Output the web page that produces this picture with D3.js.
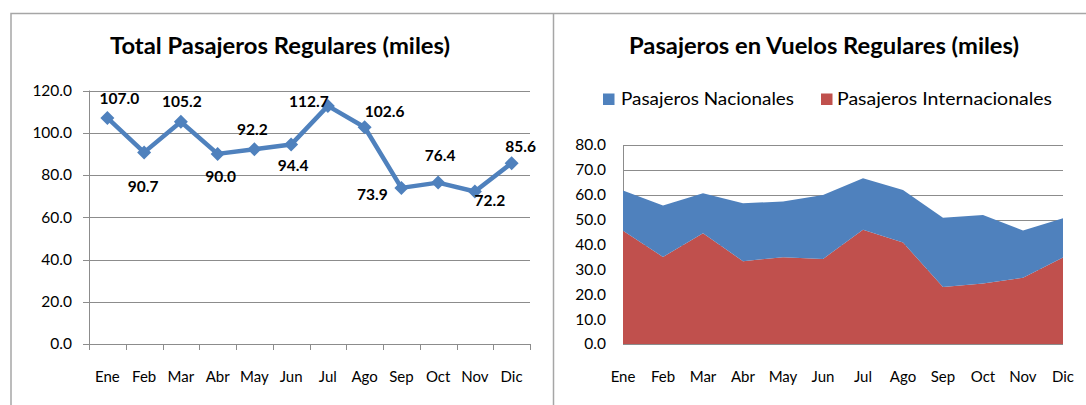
<!DOCTYPE html>
<html>
<head>
<meta charset="utf-8">
<script src="https://cdn.jsdelivr.net/npm/d3@7"></script>
<style>
  body { margin: 0; background: #fff; }
  svg { display: block; font-family: Lato, "Open Sans", sans-serif; }
</style>
</head>
<body>
<svg width="1086" height="405"></svg>
<script>
const months = ["Ene", "Feb", "Mar", "Abr", "May", "Jun", "Jul", "Ago", "Sep", "Oct", "Nov", "Dic"];

// total pasajeros regulares (miles)
const totalValues = [107.0, 90.7, 105.2, 90.0, 92.2, 94.4, 112.7, 102.6, 73.9, 76.4, 72.2, 85.6];

// stacked area: internacionales at the bottom, nacionales on top
const internacionales = [45.5, 35.0, 44.5, 33.3, 34.9, 34.2, 45.9, 40.8, 22.9, 24.3, 26.6, 34.8];
const nacionales = [16.2, 20.7, 16.1, 23.3, 22.4, 25.7, 20.7, 21.1, 27.9, 27.6, 19.0, 15.8];

const leftTicks = [0, 20, 40, 60, 80, 100, 120];
const rightTicks = [0, 10, 20, 30, 40, 50, 60, 70, 80];

// where each data label sits relative to its point (dx, dy)
const labelOffsets = [[12, -19], [-1, 34], [1, -20], [3, 23], [-2, -20], [2, 21],
                      [-19, -4], [20, -16], [-29, 7], [2, -27], [15, 9], [9, -17]];

const svg = d3.select("svg");
const gridColor = "#8c8c8c";
const blue = "#4F81BD", red = "#C0504D";

// frame
svg.append("path")
    .attr("d", "M11,405 V13.5 H1086 M553.5,13.5 V405")
    .attr("fill", "none")
    .attr("stroke", "#a6a6a6")
    .attr("stroke-width", 1.5);

// ---------- left chart ----------
var x1 = d3.scaleBand().domain(months).range([89, 530]);
var y1 = d3.scaleLinear().domain([0, 120]).range([344, 90.5]);

svg.append("text")
    .attr("x", 280).attr("y", 54)
    .attr("text-anchor", "middle")
    .attr("font-size", 23).attr("font-weight", "bold")
    .attr("textLength", 340).attr("lengthAdjust", "spacingAndGlyphs")
    .text("Total Pasajeros Regulares (miles)");

var grid1 = svg.append("g").attr("class", "grid");
grid1.selectAll("line")
    .data(leftTicks)
    .enter().append("line")
    .attr("x1", 83).attr("x2", 530)
    .attr("y1", d => Math.round(y1(d)) + 0.5)
    .attr("y2", d => Math.round(y1(d)) + 0.5)
    .attr("stroke", gridColor);

svg.append("line")
    .attr("x1", 89.5).attr("x2", 89.5)
    .attr("y1", y1(120)).attr("y2", y1(0))
    .attr("stroke", gridColor);

svg.append("g").selectAll("line")
    .data(months.concat(["end"]))
    .enter().append("line")
    .attr("x1", (d, i) => Math.round(89 + i * x1.bandwidth()) + 0.5)
    .attr("x2", (d, i) => Math.round(89 + i * x1.bandwidth()) + 0.5)
    .attr("y1", y1(0)).attr("y2", y1(0) + 6)
    .attr("stroke", gridColor);

svg.append("g").selectAll("text")
    .data(leftTicks)
    .enter().append("text")
    .attr("x", 72)
    .attr("y", d => y1(d))
    .attr("dy", "0.35em")
    .attr("text-anchor", "end")
    .attr("font-size", 15.5)
    .text(d => d3.format(".1f")(d));

svg.append("g").selectAll("text")
    .data(months)
    .enter().append("text")
    .attr("x", d => x1(d) + x1.bandwidth() / 2)
    .attr("y", 377)
    .attr("dy", "0.35em")
    .attr("text-anchor", "middle")
    .attr("font-size", 15)
    .text(d => d);

var line = d3.line()
    .x((d, i) => x1(months[i]) + x1.bandwidth() / 2)
    .y(d => y1(d));

svg.append("path")
    .datum(totalValues)
    .attr("d", line)
    .attr("fill", "none")
    .attr("stroke", blue)
    .attr("stroke-width", 4.5)
    .attr("stroke-linejoin", "round");

svg.append("g").selectAll("path")
    .data(totalValues)
    .enter().append("path")
    .attr("d", "M0,-7 L7,0 L0,7 L-7,0 Z")
    .attr("fill", blue)
    .attr("transform", (d, i) => `translate(${x1(months[i]) + x1.bandwidth() / 2},${y1(d)})`);

svg.append("g").selectAll("text")
    .data(totalValues)
    .enter().append("text")
    .attr("x", (d, i) => x1(months[i]) + x1.bandwidth() / 2 + labelOffsets[i][0])
    .attr("y", (d, i) => y1(d) + labelOffsets[i][1])
    .attr("dy", "0.35em")
    .attr("text-anchor", "middle")
    .attr("font-size", 15.5)
    .attr("font-weight", "bold")
    .text(d => d3.format(".1f")(d));

// ---------- right chart ----------
var x2 = d3.scalePoint().domain(months).range([623, 1063]);
var y2 = d3.scaleLinear().domain([0, 80]).range([344, 145]);

svg.append("text")
    .attr("x", 824).attr("y", 54)
    .attr("text-anchor", "middle")
    .attr("font-size", 23).attr("font-weight", "bold")
    .attr("textLength", 390).attr("lengthAdjust", "spacingAndGlyphs")
    .text("Pasajeros en Vuelos Regulares (miles)");

var legend = [
    { name: "Pasajeros Nacionales", color: blue, x: 603, w: 173 },
    { name: "Pasajeros Internacionales", color: red, x: 821, w: 215 }
];
var lg = svg.append("g").selectAll("g")
    .data(legend)
    .enter().append("g")
    .attr("transform", d => `translate(${d.x},99)`);
lg.append("rect")
    .attr("x", 0).attr("y", -5.5).attr("width", 11.5).attr("height", 11.5)
    .attr("fill", d => d.color);
lg.append("text")
    .attr("x", d => d.x === 603 ? 18 : 16).attr("dy", "0.35em")
    .attr("font-size", 18)
    .attr("textLength", d => d.w).attr("lengthAdjust", "spacingAndGlyphs")
    .text(d => d.name);

svg.append("g").selectAll("line")
    .data(rightTicks)
    .enter().append("line")
    .attr("x1", 623).attr("x2", 1063)
    .attr("y1", d => Math.round(y2(d)) + 0.5)
    .attr("y2", d => Math.round(y2(d)) + 0.5)
    .attr("stroke", gridColor);

svg.append("line")
    .attr("x1", 623.5).attr("x2", 623.5)
    .attr("y1", y2(80)).attr("y2", y2(0))
    .attr("stroke", gridColor);

var stackData = months.map((m, i) => ({ month: m, internacionales: internacionales[i], nacionales: nacionales[i] }));
var series = d3.stack().keys(["internacionales", "nacionales"])(stackData);

var area = d3.area()
    .x(d => x2(d.data.month))
    .y0(d => y2(d[0]))
    .y1(d => y2(d[1]));

svg.append("g").selectAll("path")
    .data(series)
    .enter().append("path")
    .attr("d", area)
    .attr("fill", d => d.key === "nacionales" ? blue : red);

svg.append("line")
    .attr("x1", 623).attr("x2", 1063)
    .attr("y1", 344.5).attr("y2", 344.5)
    .attr("stroke", gridColor);

svg.append("g").selectAll("text")
    .data(rightTicks)
    .enter().append("text")
    .attr("x", 606)
    .attr("y", d => y2(d))
    .attr("dy", "0.35em")
    .attr("text-anchor", "end")
    .attr("font-size", 15.5)
    .text(d => d3.format(".1f")(d));

svg.append("g").selectAll("text")
    .data(months)
    .enter().append("text")
    .attr("x", d => x2(d))
    .attr("y", 377)
    .attr("dy", "0.35em")
    .attr("text-anchor", "middle")
    .attr("font-size", 15)
    .text(d => d);
</script>
</body>
</html>
